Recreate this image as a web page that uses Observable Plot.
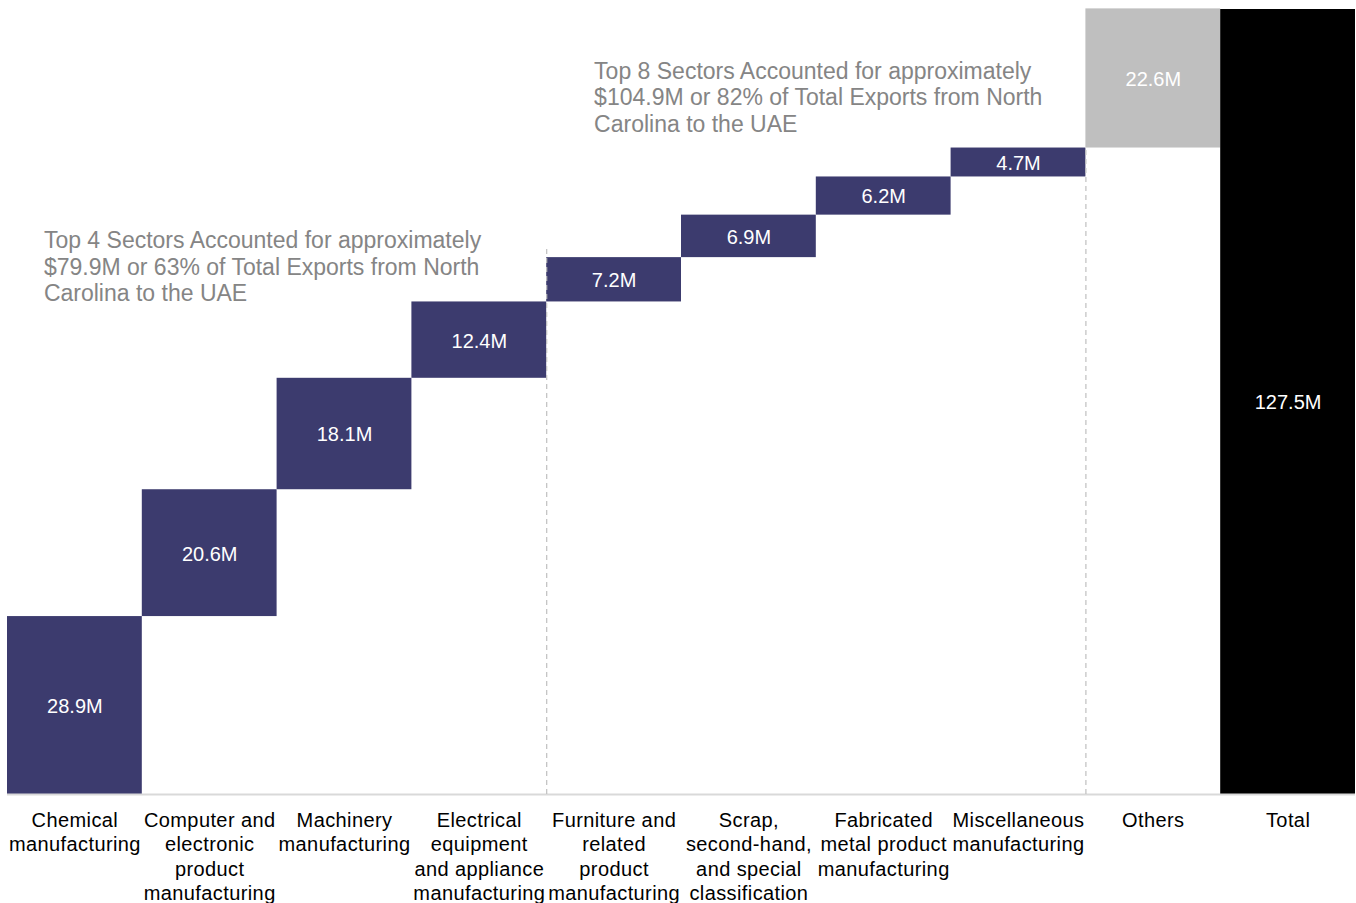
<!DOCTYPE html>
<html>
<head>
<meta charset="utf-8">
<script src="https://cdn.jsdelivr.net/npm/d3@7"></script>
<script src="https://cdn.jsdelivr.net/npm/@observablehq/plot@0.6"></script>
<style>
  html, body { margin: 0; padding: 0; background: #fff; }
  #chart svg { display: block; font-family: "Liberation Sans", Arial, sans-serif; }
  #chart svg g.ticklabels text { letter-spacing: 0.4px; }
</style>
</head>
<body>
<div id="chart"></div>
<script>
// ---- data ----
const categories = [
  "Chemical manufacturing",
  "Computer and electronic product manufacturing",
  "Machinery manufacturing",
  "Electrical equipment and appliance manufacturing",
  "Furniture and related product manufacturing",
  "Scrap, second-hand, and special classification",
  "Fabricated metal product manufacturing",
  "Miscellaneous manufacturing",
  "Others",
  "Total"
];
const tickLabels = [
  "Chemical\nmanufacturing",
  "Computer and\nelectronic\nproduct\nmanufacturing",
  "Machinery\nmanufacturing",
  "Electrical\nequipment\nand appliance\nmanufacturing",
  "Furniture and\nrelated\nproduct\nmanufacturing",
  "Scrap,\nsecond-hand,\nand special\nclassification",
  "Fabricated\nmetal product\nmanufacturing",
  "Miscellaneous\nmanufacturing",
  "Others",
  "Total"
];
const values = [28.9, 20.6, 18.1, 12.4, 7.2, 6.9, 6.2, 4.7, 22.6, 127.5];
const kinds = ["sector","sector","sector","sector","sector","sector","sector","sector","others","total"];
const kindColors = {sector: "#3c3b6e", others: "#bfbfbf", total: "#000000"};

const annotationTexts = [
  "Top 4 Sectors Accounted for approximately\n$79.9M or 63% of Total Exports from North\nCarolina to the UAE",
  "Top 8 Sectors Accounted for approximately\n$104.9M or 82% of Total Exports from North\nCarolina to the UAE"
];
const annotationAfter = ["Electrical equipment and appliance manufacturing", "Miscellaneous manufacturing"];
const annotationTop = [89, 104.9];
const annotationTextY = [85.8, 113.3];
const annotationAnchor = ["Chemical manufacturing", "Furniture and related product manufacturing"];

// ---- build waterfall table ----
let running = 0;
const rows = categories.map((c, i) => {
  let y1, y2;
  if (kinds[i] === "total") { y1 = 0; y2 = values[i]; }
  else { y1 = running; y2 = running + values[i]; running = y2; }
  return {cat: c, label: tickLabels[i], value: values[i], kind: kinds[i], y1, y2};
});
const annotations = annotationTexts.map((t, i) => ({
  text: t, after: annotationAfter[i], top: annotationTop[i], textY: annotationTextY[i], anchor: annotationAnchor[i]
}));

const W = 1356, H = 903;
const margin = {top: 9, right: 1, bottom: 109, left: 7};
const bandW = (W - margin.left - margin.right) / categories.length;

const chart = Plot.plot({
  width: W,
  height: H,
  marginTop: margin.top,
  marginRight: margin.right,
  marginBottom: margin.bottom,
  marginLeft: margin.left,
  style: {fontFamily: "'Liberation Sans', Arial, sans-serif", background: "#fff"},
  x: {domain: categories, padding: 0, round: false, axis: null},
  y: {domain: [0, 127.5], axis: null},
  marks: [
    Plot.rectY(rows, {x: "cat", y1: "y1", y2: "y2", fill: d => kindColors[d.kind]}),
    Plot.ruleY([0], {stroke: "#d9d9d9", strokeWidth: 2}),
    Plot.ruleX(annotations, {x: "after", y1: 0, y2: "top", dx: bandW / 2, stroke: "#bfbfbf", strokeWidth: 1.2, strokeDasharray: "5,4"}),
    Plot.text(rows, {x: "cat", y: d => (d.y1 + d.y2) / 2, dy: 1, text: d => d.value.toFixed(1) + "M", fill: "#ffffff", fontSize: 20}),
    Plot.text(rows, {x: "cat", y: 0, text: "label", dy: 15, lineAnchor: "top", lineHeight: 1.22, fontSize: 20, fill: "#000", className: "ticklabels"}),
    Plot.text(annotations.slice(0, 1), {x: "anchor", y: "textY", text: "text", dx: -31, textAnchor: "start", lineAnchor: "middle", lineHeight: 1.15, fontSize: 23, fill: "#858585"}),
    Plot.text(annotations.slice(1, 2), {x: "anchor", y: "textY", text: "text", dx: -20, textAnchor: "start", lineAnchor: "middle", lineHeight: 1.15, fontSize: 23, fill: "#858585"})
  ]
});
document.getElementById("chart").appendChild(chart);
</script>
</body>
</html>
